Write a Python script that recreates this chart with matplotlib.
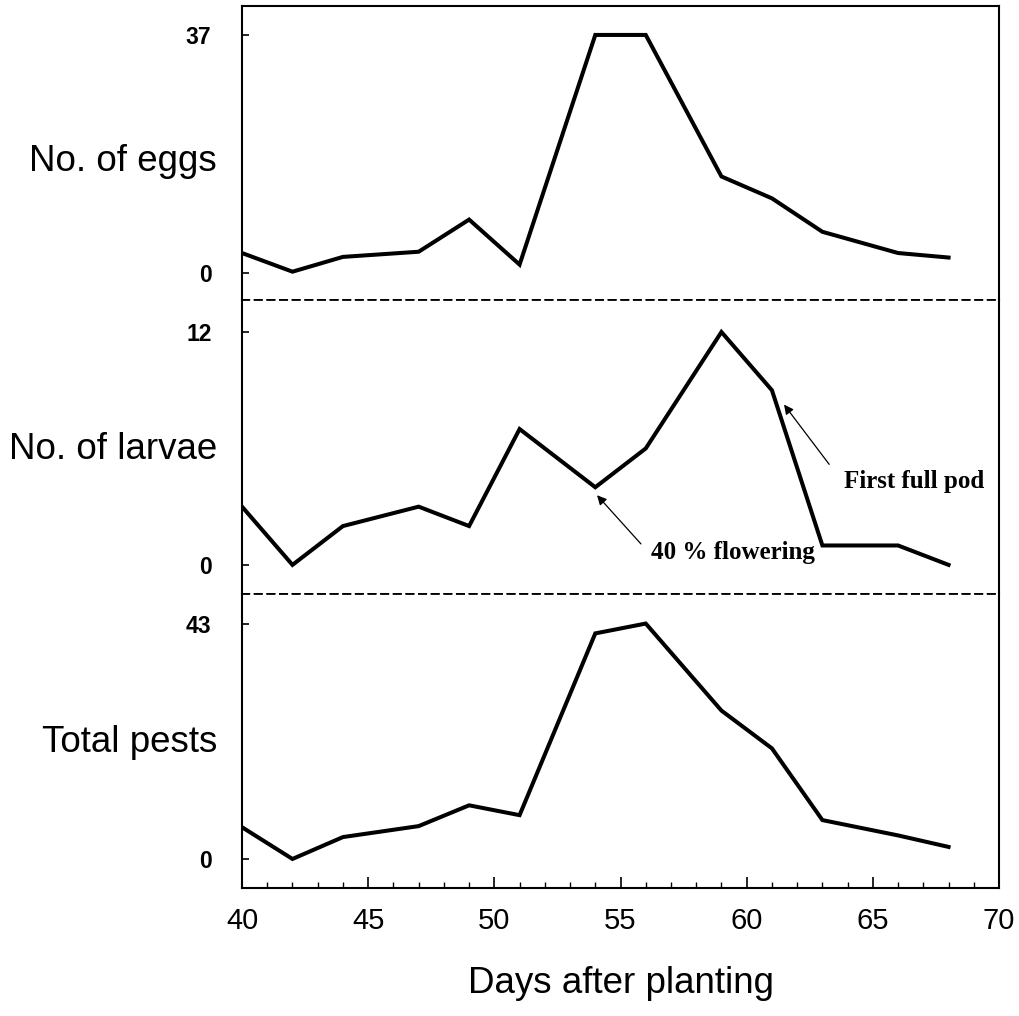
import matplotlib.pyplot as plt
from matplotlib.ticker import FixedLocator, MultipleLocator

plt.rcParams['font.family'] = ['Liberation Sans', 'DejaVu Sans']

# data
days = [40, 42, 44, 47, 49, 51, 54, 56, 59, 61, 63, 66, 68]
eggs = [3.1, 0.2, 2.5, 3.3, 8.3, 1.3, 37, 37, 15, 11.6, 6.4, 3.1, 2.4]
larvae = [3, 0, 2, 3, 2, 7, 4, 6, 12, 9, 1, 1, 0]
total = [5.8, 0, 4.0, 6.0, 9.8, 8.0, 41.2, 43, 27.1, 20.2, 7.1, 4.3, 2.2]

panel_labels = ["No. of eggs", "No. of larvae", "Total pests"]
panel_series = [eggs, larvae, total]
panel_ymax = [37, 12, 43]
panel_ylim = [(-4.2, 41.5), (-1.5, 13.65), (-5.3, 48.4)]
panel_label_y = [0.47, 0.49, 0.495]

fig = plt.figure(figsize=(10.19, 10.16), dpi=100)
axes = fig.subplots(3, 1, sharex=True)
fig.subplots_adjust(left=0.2375, right=0.9804, top=0.9941, bottom=0.126, hspace=0)

for i, ax in enumerate(axes):
  ax.plot(days, panel_series[i], color="black", linewidth=2.9,
          solid_joinstyle="miter")
  ax.set_xlim(40, 70)
  ax.set_ylim(*panel_ylim[i])
  ax.yaxis.set_major_locator(FixedLocator([0, panel_ymax[i]]))
  ax.set_yticklabels(["0", str(panel_ymax[i])], fontweight="bold")
  ax.tick_params(axis="y", direction="in", length=5, width=1.2,
                 labelsize=16.5, pad=22)

  for side in ["left", "right", "top", "bottom"]:
    ax.spines[side].set_linewidth(1.5)
    ax.spines[side].set_color("black")
  if i > 0:
    ax.spines["top"].set_linestyle((0, (4, 3)))
    ax.spines["top"].set_linewidth(1.3)
  if i < 2:
    ax.spines["bottom"].set_linestyle((0, (4, 3)))
    ax.spines["bottom"].set_linewidth(1.3)
    ax.tick_params(axis="x", which="both", length=0, labelbottom=False)

  ax.text(-0.033, panel_label_y[i], panel_labels[i],
          transform=ax.transAxes, ha="right", va="center", fontsize=26.5)

# bottom axis ticks
ax = axes[2]
ax.xaxis.set_major_locator(MultipleLocator(5))
ax.xaxis.set_minor_locator(MultipleLocator(1))
ax.tick_params(axis="x", which="major", direction="in", length=8, width=1.2,
               labelsize=21, pad=14)
ax.tick_params(axis="x", which="minor", direction="in", length=4, width=1.0)
ax.set_xlabel("Days after planting", fontsize=26.5, labelpad=22)

# annotations on the larvae panel
ax = axes[1]
arrow = dict(arrowstyle="-|>", color="black", lw=0.9,
             mutation_scale=14, shrinkA=0, shrinkB=0)
ax.annotate("", xy=(61.48, 8.26), xytext=(63.27, 5.18), arrowprops=arrow)
ax.text(63.85, 4.31, "First full pod", ha="left", va="center",
        fontsize=18, fontweight="bold",
        family=["Liberation Serif", "DejaVu Serif"])
ax.annotate("", xy=(54.07, 3.59), xytext=(55.81, 1.08), arrowprops=arrow)
ax.text(56.2, 0.62, "40 % flowering", ha="left", va="center",
        fontsize=18, fontweight="bold",
        family=["Liberation Serif", "DejaVu Serif"])

plt.savefig("out.png", dpi=100)
